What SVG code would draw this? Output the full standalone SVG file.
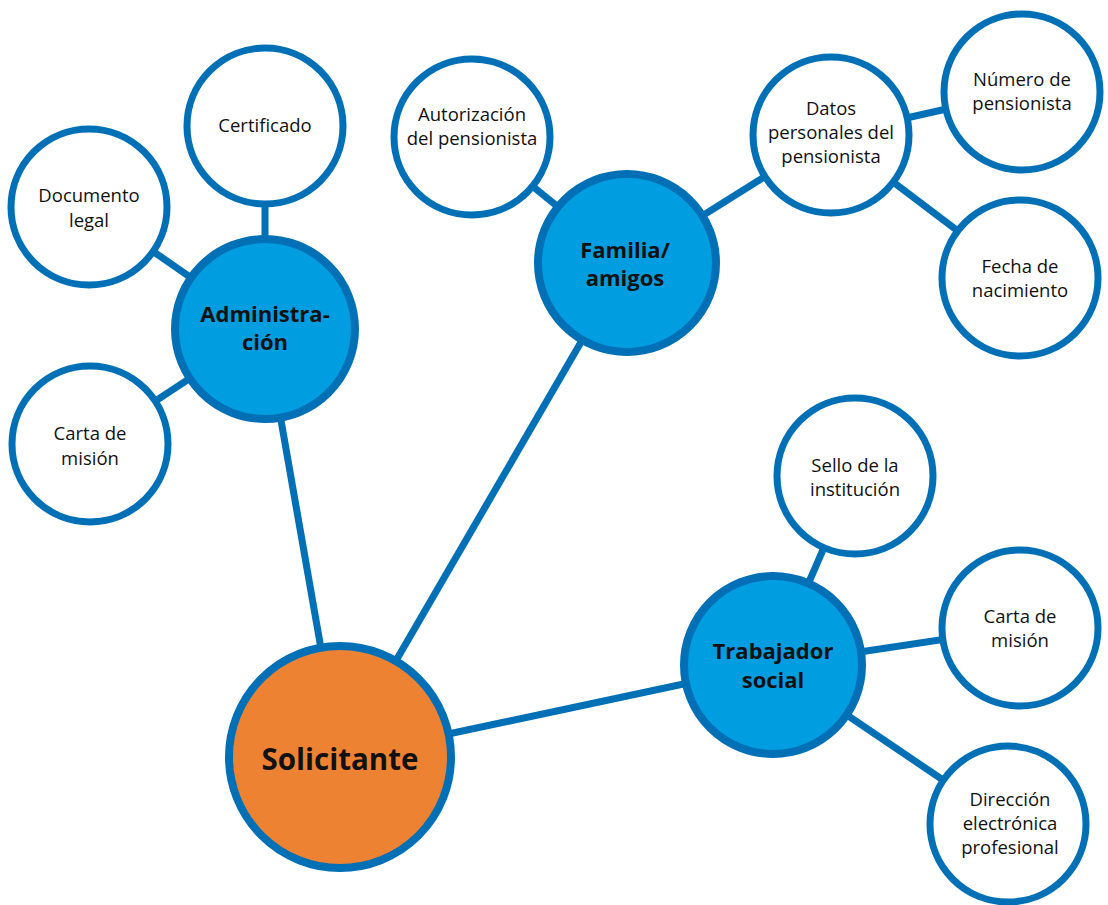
<svg xmlns="http://www.w3.org/2000/svg" width="1108" height="905" viewBox="0 0 1108 905">
<style>
.c{stroke:#0070b6;stroke-width:7;fill:#fff}
.h{stroke:#0070b6;stroke-width:8;fill:#009de0}
.s{stroke:#0070b6;stroke-width:8;fill:#ee8233}
.l{stroke:#0070b6;stroke-width:7;fill:none}
text{font-family:"Open Sans","Noto Sans",sans-serif;fill:#111;text-anchor:middle}
.t{font-size:18.5px}
.b{font-size:22px;font-weight:bold}
.x{font-size:29.5px;font-weight:bold}
</style>
<rect width="1108" height="905" fill="#fff"/>
<g id="connectors">
<line class="l" x1="265" y1="126" x2="265" y2="329"/>
<line class="l" x1="89" y1="207" x2="265" y2="329"/>
<line class="l" x1="90" y1="444" x2="265" y2="329"/>
<line class="l" x1="265" y1="329" x2="340" y2="757"/>
<line class="l" x1="627" y1="263" x2="340" y2="757"/>
<line class="l" x1="472" y1="137" x2="627" y2="263"/>
<line class="l" x1="831" y1="135" x2="627" y2="263"/>
<line class="l" x1="831" y1="135" x2="1022" y2="92"/>
<line class="l" x1="831" y1="135" x2="1020" y2="278"/>
<line class="l" x1="773" y1="665" x2="340" y2="757"/>
<line class="l" x1="855" y1="476" x2="773" y2="665"/>
<line class="l" x1="1020" y1="628" x2="773" y2="665"/>
<line class="l" x1="1008" y1="824" x2="773" y2="665"/>
</g>
<g id="certificado"><circle class="c" cx="265" cy="126" r="78"/><text class="t" x="265" y="132">Certificado</text></g>
<g id="documento"><circle class="c" cx="89" cy="207" r="78"/><text class="t" x="89" y="202">Documento</text><text class="t" x="89" y="227">legal</text></g>
<g id="carta1"><circle class="c" cx="90" cy="444" r="78"/><text class="t" x="90" y="440">Carta de</text><text class="t" x="90" y="465">misión</text></g>
<g id="administracion"><circle class="h" cx="265" cy="329" r="90"/><text class="b" x="265" y="322">Administra-</text><text class="b" x="265" y="350">ción</text></g>
<g id="autorizacion"><circle class="c" cx="472" cy="137" r="78"/><text class="t" x="472" y="121">Autorización</text><text class="t" x="472" y="145">del pensionista</text></g>
<g id="familia"><circle class="h" cx="627" cy="263" r="89"/><text class="b" x="625" y="258">Familia/</text><text class="b" x="625" y="286">amigos</text></g>
<g id="datos"><circle class="c" cx="831" cy="135" r="78"/><text class="t" x="831" y="115">Datos</text><text class="t" x="831" y="139">personales del</text><text class="t" x="831" y="163">pensionista</text></g>
<g id="numero"><circle class="c" cx="1022" cy="92" r="78"/><text class="t" x="1022" y="86">Número de</text><text class="t" x="1022" y="110">pensionista</text></g>
<g id="fecha"><circle class="c" cx="1020" cy="278" r="78"/><text class="t" x="1020" y="273">Fecha de</text><text class="t" x="1020" y="297">nacimiento</text></g>
<g id="sello"><circle class="c" cx="855" cy="476" r="78"/><text class="t" x="855" y="472">Sello de la</text><text class="t" x="855" y="496">institución</text></g>
<g id="carta2"><circle class="c" cx="1020" cy="628" r="78"/><text class="t" x="1020" y="623">Carta de</text><text class="t" x="1020" y="647">misión</text></g>
<g id="trabajador"><circle class="h" cx="773" cy="665" r="89"/><text class="b" x="773" y="659">Trabajador</text><text class="b" x="773" y="688">social</text></g>
<g id="direccion"><circle class="c" cx="1008" cy="824" r="78"/><text class="t" x="1010" y="806">Dirección</text><text class="t" x="1010" y="830">electrónica</text><text class="t" x="1010" y="854">profesional</text></g>
<g id="solicitante"><circle class="s" cx="340" cy="757" r="111"/><text class="x" x="340" y="770">Solicitante</text></g>
</svg>
